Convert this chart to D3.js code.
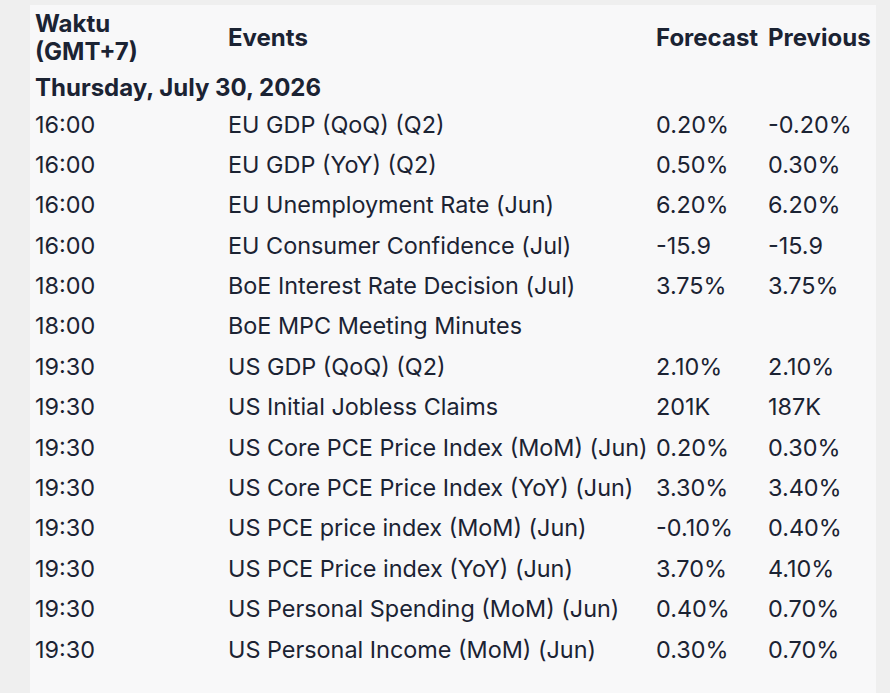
<!DOCTYPE html>
<html>
<head>
<meta charset="utf-8">
<script src="https://cdn.jsdelivr.net/npm/d3@7"></script>
<style>
  html, body { margin: 0; padding: 0; background: #efefef; }
  svg { display: block; }
  text { font-family: Inter, "Noto Sans", sans-serif; fill: #1b2333; }
</style>
</head>
<body>
<div id="calendar"></div>
<script>
// page size
const calWidth = 890;
const calHeight = 693;

// table data
const headers = ["Waktu", "Events", "Forecast", "Previous"];
const dayLabel = "Thursday, July 30, 2026";
const times = ["16:00", "16:00", "16:00", "16:00", "18:00", "18:00", "19:30",
               "19:30", "19:30", "19:30", "19:30", "19:30", "19:30", "19:30"];
const events = ["EU GDP (QoQ) (Q2)", "EU GDP (YoY) (Q2)", "EU Unemployment Rate (Jun)",
                "EU Consumer Confidence (Jul)", "BoE Interest Rate Decision (Jul)",
                "BoE MPC Meeting Minutes", "US GDP (QoQ) (Q2)", "US Initial Jobless Claims",
                "US Core PCE Price Index (MoM) (Jun)", "US Core PCE Price Index (YoY) (Jun)",
                "US PCE price index (MoM) (Jun)", "US PCE Price index (YoY) (Jun)",
                "US Personal Spending (MoM) (Jun)", "US Personal Income (MoM) (Jun)"];
const forecast = ["0.20%", "0.50%", "6.20%", "-15.9", "3.75%", "", "2.10%",
                  "201K", "0.20%", "3.30%", "-0.10%", "3.70%", "0.40%", "0.30%"];
const previous = ["-0.20%", "0.30%", "6.20%", "-15.9", "3.75%", "", "2.10%",
                  "187K", "0.30%", "3.40%", "0.40%", "4.10%", "0.70%", "0.70%"];

const rows = times.map(function (t, i) {
    return {time: t, event: events[i], forecast: forecast[i], previous: previous[i]};
});

const svg = d3.select("#calendar").append("svg")
    .attr("width", calWidth)
    .attr("height", calHeight);

// light panel behind the table
svg.append("rect")
    .attr("x", 30)
    .attr("y", 5)
    .attr("width", 846)
    .attr("height", calHeight)
    .style("fill", "#f8f8f9");

// column left edges
const cols = ["time", "event", "forecast", "previous"];
const colX = d3.scaleOrdinal()
    .domain(cols)
    .range([35, 228, 656, 768]);

// baseline of each row
const y = d3.scaleLinear()
    .domain([0, rows.length - 1])
    .range([132.5, 657.5]);

// header
const head = svg.append("g").style("font-weight", "700").style("font-size", "24px");
head.append("text").attr("x", colX("time")).attr("y", 32).text(headers[0]);
head.append("text").attr("x", colX("time")).attr("y", 60).text("(GMT+7)");
head.append("text").attr("x", colX("event")).attr("y", 46).text(headers[1]);
head.append("text").attr("x", colX("forecast")).attr("y", 46).text(headers[2]);
head.append("text").attr("x", colX("previous")).attr("y", 46).text(headers[3]);
head.append("text").attr("x", colX("time")).attr("y", 96).text(dayLabel);

// body rows
const rowG = svg.selectAll("g.row")
    .data(rows)
    .enter()
    .append("g")
    .attr("class", "row")
    .attr("transform", function (d, i) { return "translate(0," + y(i) + ")"; })
    .style("font-size", "23.4px");

cols.forEach(function (k) {
    rowG.append("text")
        .attr("x", colX(k))
        .text(function (d) { return d[k]; });
});
</script>
</body>
</html>
